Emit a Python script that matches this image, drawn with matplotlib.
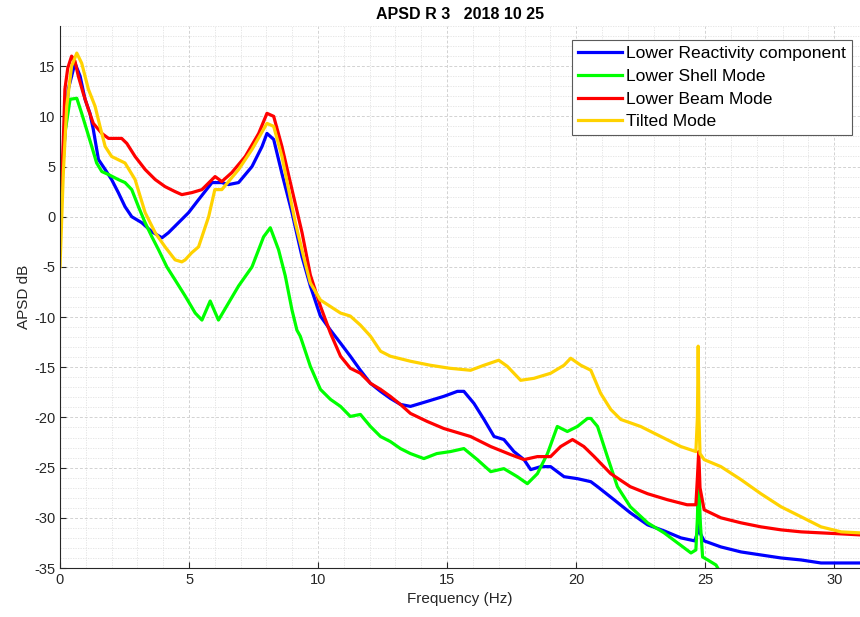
"""
APSD R 3 - auto power spectral density of the four lower modes.
"""

import matplotlib
matplotlib.use("Agg")
import matplotlib.pyplot as plt
from matplotlib.ticker import MultipleLocator

# ── Data (frequency in Hz, APSD in dB) ─────────────────────────────────────
freq_lrc = [0, 0.13, 0.32, 0.58, 0.78, 0.97, 1.16, 1.29, 1.49, 1.75, 2.0, 2.26,
            2.52, 2.78, 3.17, 3.56, 3.95, 4.2, 4.59, 4.98, 5.37, 5.89, 6.27,
            6.53, 6.92, 7.44, 7.83, 8.02, 8.28, 8.6, 8.99, 9.38, 9.7, 10.09,
            10.48, 10.87, 11.25, 11.64, 12.03, 12.42, 12.8, 13.19, 13.58,
            14.23, 14.87, 15.4, 15.65, 16.04, 16.43, 16.82, 17.2, 17.59, 17.98,
            18.24, 18.63, 19.01, 19.53, 20.05, 20.57, 20.83, 21.47, 22.1,
            22.77, 23.41, 24.06, 24.6, 24.7, 24.75, 24.8, 24.96, 25.61, 26.39,
            27.16, 27.94, 28.72, 29.49, 30.27, 31.0]
apsd_lrc = [0, 6.0, 12.7, 15.3, 14.0, 11.7, 10.3, 8.7, 5.7, 4.7, 3.7, 2.4,
            1.0, 0.0, -0.6, -1.5, -2.1, -1.6, -0.6, 0.4, 1.7, 3.4, 3.4,
            3.2, 3.4, 5.0, 7.0, 8.3, 7.7, 4.3, 0.4, -4.0, -6.9, -9.9,
            -11.3, -12.6, -13.9, -15.3, -16.6, -17.4, -18.1, -18.7, -18.9,
            -18.4, -17.9, -17.4, -17.4, -18.6, -20.2, -21.9, -22.2, -23.4,
            -24.2, -25.2, -24.9, -24.9, -25.9, -26.1, -26.4, -26.9, -28.2,
            -29.5, -30.7, -31.3, -32.0, -32.3, -31.5, -26.0, -31.5, -32.3,
            -32.9, -33.4, -33.7, -34.0, -34.2, -34.5, -34.5, -34.5]

freq_lsm = [0, 0.19, 0.39, 0.65, 0.84, 1.03, 1.23, 1.42, 1.62, 1.88, 2.26,
            2.52, 2.78, 3.04, 3.3, 3.56, 3.82, 4.14, 4.46, 4.85, 5.24, 5.5,
            5.82, 6.14, 6.53, 6.92, 7.44, 7.89, 8.15, 8.47, 8.73, 8.99, 9.18,
            9.31, 9.7, 10.09, 10.48, 10.87, 11.25, 11.64, 12.03, 12.42, 12.8,
            13.19, 13.58, 14.1, 14.6, 15.13, 15.65, 16.17, 16.69, 17.2, 17.72,
            18.11, 18.5, 18.89, 19.27, 19.66, 20.05, 20.44, 20.57, 20.83,
            21.21, 21.6, 22.1, 22.77, 23.41, 23.93, 24.45, 24.64, 24.7, 24.75,
            24.8, 24.9, 25.1, 25.42, 25.6]
apsd_lsm = [0, 8.3, 11.7, 11.8, 10.3, 8.7, 7.0, 5.35, 4.5, 4.2, 3.7,
            3.4, 2.7, 1.0, -0.6, -2.0, -3.3, -5.0, -6.3, -7.9, -9.6, -10.3,
            -8.4, -10.3, -8.6, -6.9, -5.0, -2.0, -1.1, -3.3, -5.9, -9.3, -11.3,
            -11.9, -14.9, -17.2, -18.2, -18.9, -19.9, -19.7, -20.9, -21.9,
            -22.4, -23.1, -23.6, -24.1, -23.6, -23.4, -23.1, -24.2, -25.4,
            -25.1, -25.9, -26.6, -25.6, -23.6, -20.9, -21.4, -20.9, -20.1,
            -20.1, -20.9, -23.9, -26.9, -28.9, -30.5, -31.5, -32.5, -33.5,
            -33.2, -30.0, -25.0, -30.0, -33.9, -34.2, -34.7, -35.5]

freq_lbm = [0, 0.13, 0.19, 0.3, 0.45, 0.58, 0.71, 0.9, 1.1, 1.29, 1.62, 1.88,
            2.39, 2.59, 2.91, 3.3, 3.69, 4.07, 4.46, 4.72, 5.11, 5.5, 6.01,
            6.27, 6.66, 7.18, 7.7, 8.02, 8.28, 8.6, 8.99, 9.38, 9.7, 10.09,
            10.48, 10.87, 11.25, 11.64, 12.03, 12.42, 12.8, 13.19, 13.58,
            14.23, 14.87, 15.52, 15.91, 16.69, 17.46, 17.98, 18.5, 19.01,
            19.4, 19.86, 20.3, 20.7, 21.34, 22.1, 22.77, 23.54, 24.3, 24.64,
            24.7, 24.75, 24.8, 24.96, 25.61, 26.39, 27.16, 27.94, 28.72, 29.49,
            30.27, 31.0]
apsd_lbm = [0, 7.7, 12.7, 14.8, 16.0, 15.5, 14.0, 12.3, 10.7, 9.3, 8.3, 7.8,
            7.8, 7.3, 6.0, 4.7, 3.7, 3.0, 2.5, 2.2, 2.4, 2.7, 4.0,
            3.5, 4.4, 6.0, 8.3, 10.3, 10.0, 7.0, 2.7, -1.6, -5.8, -8.9,
            -11.6, -13.9, -15.1, -15.6, -16.6, -17.2, -17.9, -18.7, -19.6,
            -20.4, -21.1, -21.6, -21.9, -22.9, -23.7, -24.2, -23.9, -23.9,
            -22.9, -22.2, -22.9, -23.9, -25.6, -26.9, -27.6, -28.2, -28.7, -28.7,
            -26.0, -23.4, -27.0, -29.2, -30.0, -30.5, -30.9, -31.2, -31.4, -31.5,
            -31.6, -31.7]

freq_tm = [0, 0.13, 0.26, 0.45, 0.65, 0.84, 1.1, 1.36, 1.55, 1.75, 2.0, 2.52,
           2.91, 3.3, 3.69, 4.07, 4.46, 4.72, 4.85, 5.1, 5.37, 5.76, 6.0,
           6.27, 6.92, 7.44, 8.02, 8.28, 8.6, 8.86, 9.12, 9.5, 9.7, 10.09,
           10.87, 11.25, 11.64, 12.03, 12.42, 12.8, 13.58, 14.35, 15.1, 15.91,
           16.43, 17.0, 17.33, 17.85, 18.37, 19.01, 19.53, 19.79, 20.18, 20.57,
           20.95, 21.34, 21.73, 22.5, 23.28, 24.06, 24.64, 24.7, 24.73, 24.76,
           24.8, 24.96, 25.61, 26.39, 27.16, 27.94, 28.72, 29.49, 30.27, 31.0]
apsd_tm = [-5.0, 4.4, 11.0, 15.0, 16.3, 15.3, 12.7, 11.0, 9.0, 7.0, 6.0, 5.35,
           3.7, 0.4, -1.6, -3.0, -4.3, -4.5, -4.3, -3.6, -3.0, 0.0, 2.7,
           2.7, 4.7, 6.7, 9.3, 9.0, 6.0, 2.7, -0.6, -4.6, -6.6, -8.3,
           -9.6, -9.9, -10.8, -11.9, -13.4, -13.9, -14.4, -14.8, -15.1, -15.3,
           -14.8, -14.3, -14.9, -16.3, -16.1, -15.6, -14.8, -14.1, -14.8, -15.3,
           -17.6, -19.2, -20.2, -20.9, -21.9, -22.9, -23.4, -20.0, -12.9, -20.0,
           -23.6, -24.2, -24.9, -26.2, -27.6, -28.9, -29.9, -30.9, -31.4, -31.5]

labels = ["Lower Reactivity component", "Lower Shell Mode",
          "Lower Beam Mode", "Tilted Mode"]

x_ticks = [0, 5, 10, 15, 20, 25, 30]
y_ticks = [-35, -30, -25, -20, -15, -10, -5, 0, 5, 10, 15]

# ── Style ──────────────────────────────────────────────────────────────────
plt.rcParams["font.family"] = ["Liberation Sans", "DejaVu Sans"]
plt.rcParams["axes.unicode_minus"] = False
colours = ["#0000ff", "#00ff00", "#ff0000", "#ffd200"]
AXIS_GREY = "#262626"


def main():
    fig = plt.figure(figsize=(8.6, 6.17), dpi=100)
    ax = fig.add_axes([60 / 860, 49 / 617, 800 / 860, 542 / 617])

    series = [(freq_lrc, apsd_lrc), (freq_lsm, apsd_lsm),
              (freq_lbm, apsd_lbm), (freq_tm, apsd_tm)]
    for (f, v), c, lab in zip(series, colours, labels):
        ax.plot(f, v, color=c, lw=2.3, label=lab, solid_joinstyle="round")

    ax.set_xlim(0, 31)
    ax.set_ylim(-35, 19)
    ax.set_xticks(x_ticks)
    ax.set_yticks(y_ticks)
    ax.xaxis.set_minor_locator(MultipleLocator(1))
    ax.yaxis.set_minor_locator(MultipleLocator(1))

    # MATLAB-like grid
    ax.grid(which="major", color="#d2d2d2", lw=0.7, ls=(0, (3, 2)))
    ax.grid(which="minor", color="#e2e2e2", lw=0.6, ls=(0, (1.5, 1.5)))
    ax.set_axisbelow(True)

    for side in ("top", "right"):
        ax.spines[side].set_visible(False)
    for side in ("left", "bottom"):
        ax.spines[side].set_color(AXIS_GREY)
        ax.spines[side].set_linewidth(0.8)
    ax.tick_params(which="major", direction="in", length=4, width=0.8,
                   colors=AXIS_GREY, labelsize=10.5)
    ax.tick_params(which="minor", length=0)

    ax.set_xlabel("Frequency (Hz)", fontsize=11, color=AXIS_GREY, labelpad=4)
    ax.set_ylabel("APSD dB", fontsize=11, color=AXIS_GREY, labelpad=2)
    ax.set_title("APSD R 3   2018 10 25", fontsize=11.5, fontweight="bold",
                 pad=5)

    leg = ax.legend(loc="upper right", bbox_to_anchor=(0.99, 0.974),
                    borderaxespad=0, fontsize=12.6, handlelength=2.5,
                    handletextpad=0.25, labelspacing=0.42, borderpad=0.35,
                    fancybox=False, framealpha=1)
    leg.get_frame().set_edgecolor("#5a5a5a")
    leg.get_frame().set_linewidth(0.8)

    fig.savefig("out.png", dpi=100)
    plt.close(fig)


if __name__ == "__main__":
    main()
